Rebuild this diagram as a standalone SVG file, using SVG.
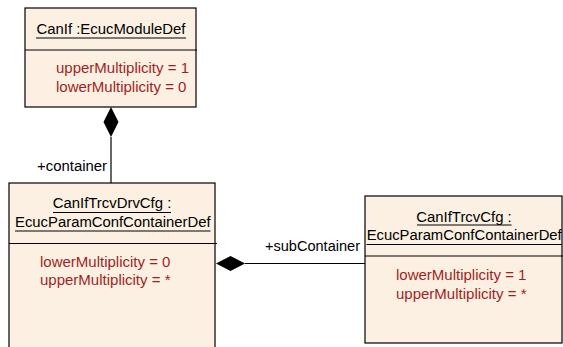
<svg xmlns="http://www.w3.org/2000/svg" width="563" height="347" viewBox="0 0 563 347">
<style>
.box{fill:#fbf0e2;stroke:#000;stroke-width:1.2}
.sep{stroke:#000;stroke-width:1.2}
.ul{stroke:#000;stroke-width:1}
.t{font-family:"Liberation Sans",Arial,sans-serif;font-size:14.9px;fill:#000}
.a{font-family:"Liberation Sans",Arial,sans-serif;font-size:15px;fill:#a31f1f}
.c{stroke:#000;stroke-width:1.2;fill:none}
</style>
<rect width="563" height="347" fill="#fff"/>
<g id="connectors">
<line class="c" x1="111" y1="137" x2="111" y2="183"/>
<polygon points="111,107 118.5,122 111,137 103.5,122" fill="#000"/>
<text class="t" x="107" y="171" text-anchor="end">+container</text>
<line class="c" x1="245" y1="263.5" x2="365" y2="263.5"/>
<polygon points="216,263.5 230.5,256 245,263.5 230.5,271" fill="#000"/>
<text class="t" x="360" y="250.5" text-anchor="end" textLength="95" lengthAdjust="spacingAndGlyphs">+subContainer</text>
</g>
<g id="CanIf">
<rect class="box" x="25" y="8" width="171" height="99"/>
<text class="t" x="111" y="33.5" text-anchor="middle">CanIf :EcucModuleDef</text>
<line class="ul" x1="36" y1="38" x2="186" y2="38"/>
<line class="sep" x1="25" y1="50" x2="197" y2="50"/>
<text class="a" x="56" y="73">upperMultiplicity = 1</text>
<text class="a" x="56" y="92">lowerMultiplicity = 0</text>
</g>
<g id="CanIfTrcvDrvCfg">
<rect class="box" x="9" y="183" width="206" height="200"/>
<text class="t" x="112" y="207.5" text-anchor="middle">CanIfTrcvDrvCfg :</text>
<line class="ul" x1="53" y1="212.5" x2="171" y2="212.5"/>
<text class="t" x="112.8" y="226.5" text-anchor="middle" textLength="195.5" lengthAdjust="spacingAndGlyphs">EcucParamConfContainerDef</text>
<line class="ul" x1="15" y1="231" x2="210.5" y2="231"/>
<line class="sep" x1="9" y1="243.5" x2="217" y2="243.5"/>
<text class="a" x="40" y="266.5">lowerMultiplicity = 0</text>
<text class="a" x="40" y="284.5">upperMultiplicity = *</text>
</g>
<g id="CanIfTrcvCfg">
<rect class="box" x="365" y="196" width="197" height="147"/>
<text class="t" x="464" y="222" text-anchor="middle">CanIfTrcvCfg :</text>
<line class="ul" x1="417" y1="225" x2="511.5" y2="225"/>
<text class="t" x="464.2" y="240" text-anchor="middle" textLength="195" lengthAdjust="spacingAndGlyphs">EcucParamConfContainerDef</text>
<line class="ul" x1="366.5" y1="244.5" x2="562" y2="244.5"/>
<line class="sep" x1="365" y1="256" x2="563" y2="256"/>
<text class="a" x="396" y="280">lowerMultiplicity = 1</text>
<text class="a" x="396" y="298.5">upperMultiplicity = *</text>
</g>
</svg>
